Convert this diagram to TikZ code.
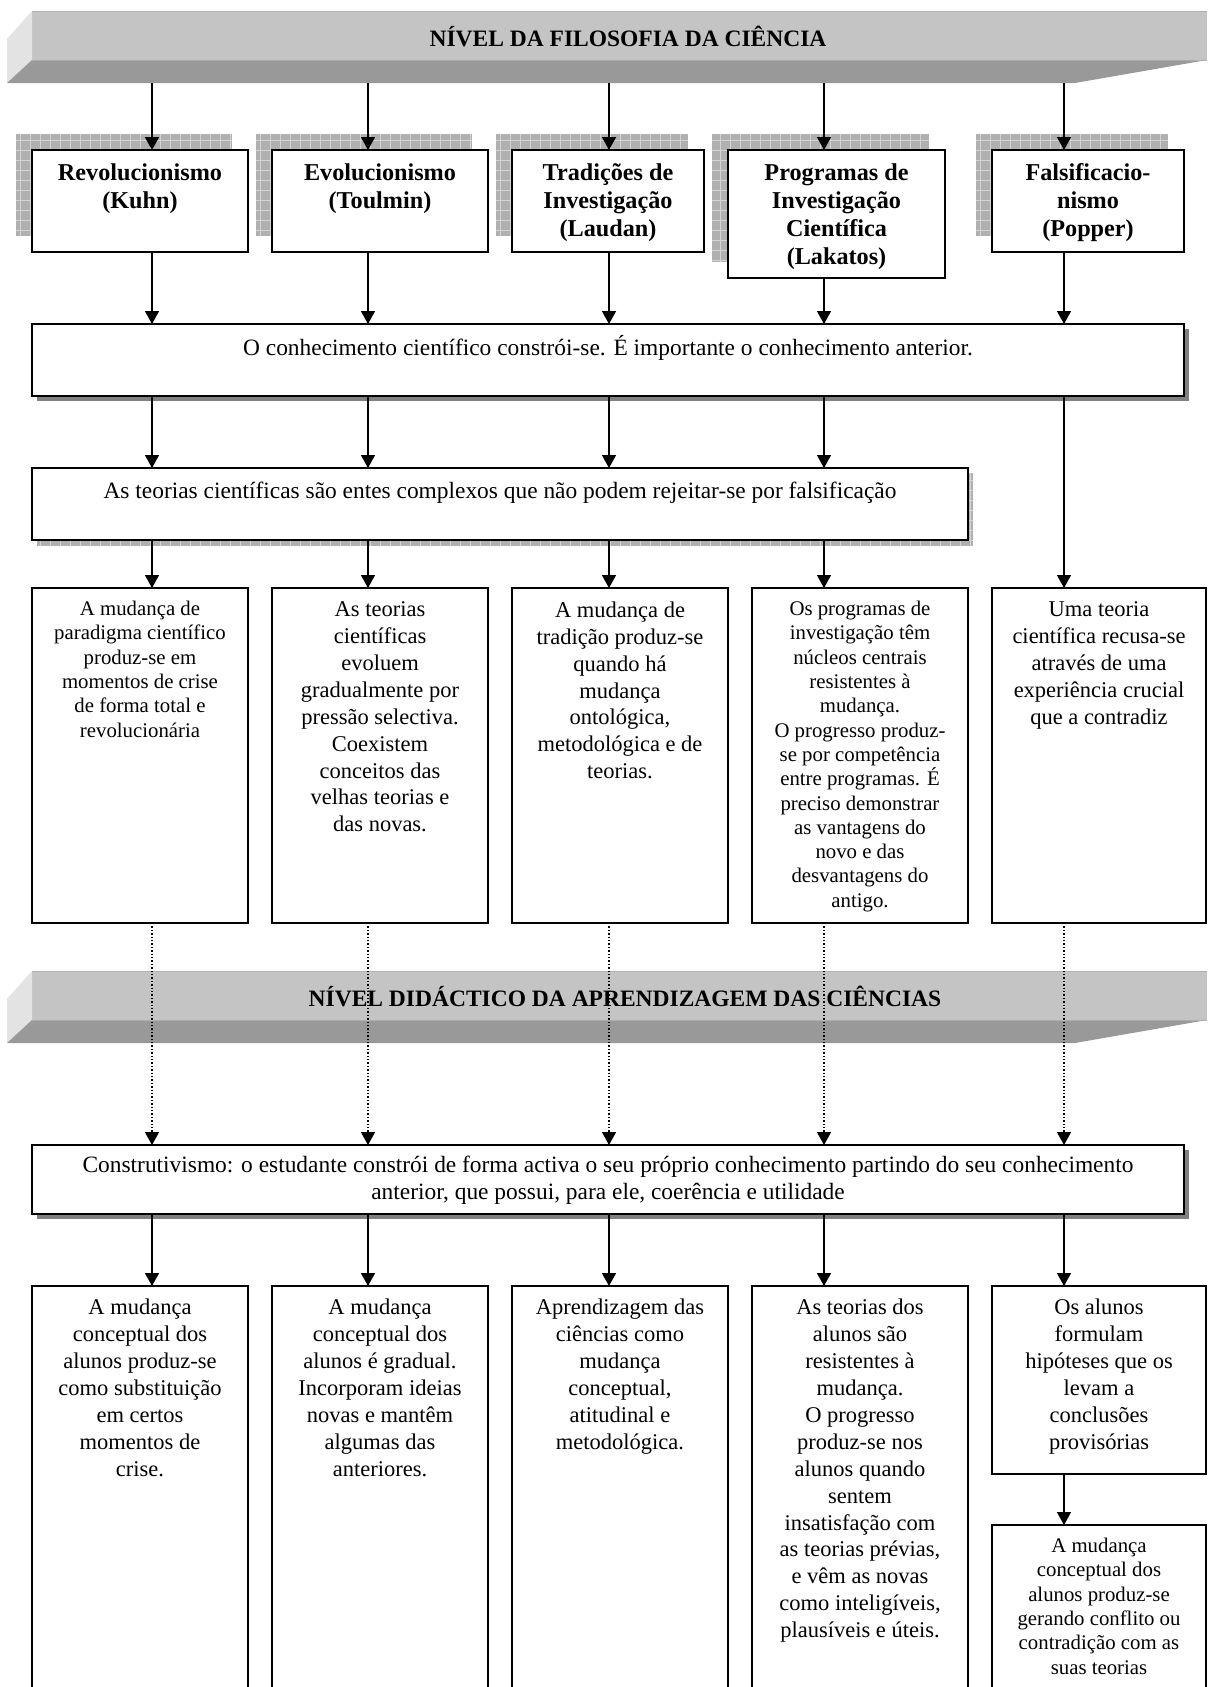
\documentclass[tikz,border=0pt]{standalone}
\usepackage{fontspec}
\setmainfont{Liberation Serif}
\usetikzlibrary{arrows.meta}
\tikzset{
  bx/.style={draw=black, line width=1.5pt, fill=white, inner sep=0pt, outer sep=0pt, anchor=north west},
  arr/.style={line width=1.5pt, -{Triangle[width=14pt,length=13pt]}},
  dotarr/.style={line width=1.4pt, dotted, -{Triangle[width=14pt,length=13pt]}},
  tbase/.style={align=center, inner sep=0pt, anchor=north, execute at begin node=\strut},
  txt/.style={tbase, font=\fontsize{22.5}{26.9}\selectfont},
  bigtxt/.style={tbase, font=\fontsize{23.4}{27}\selectfont},
  stxt/.style={tbase, font=\fontsize{20.8}{24.3}\selectfont},
  btxt/.style={tbase, font=\fontsize{24.2}{28}\selectfont\bfseries},
  bantxt/.style={inner sep=0pt, font=\fontsize{23.5}{28}\selectfont\bfseries},
  frontface/.style={fill=black!23},
  sideface/.style={fill=black!11},
  underface/.style={fill=black!40},
  solidshadow/.style={fill=black!50},
}
\newcommand\gridshadow[4]{%
  \begin{scope}
    \clip (#1,#2) rectangle (#3,#4);
    \fill[black!31] (#1,#2) rectangle (#3,#4);
    \foreach \gx in {0,10,...,1210} \draw[black!17, line width=0.8pt] (\gx,#2) -- (\gx,#4);
    \foreach \gy in {0,10,...,1690} \draw[black!17, line width=0.8pt] (#1,\gy) -- (#3,\gy);
  \end{scope}}
\newcommand\banner[1]{%
  \fill[frontface] (32,#1) rectangle (1207,#1+49);
  \draw[black!30, line width=1pt] (32,#1+0.5) -- (1207,#1+0.5);
  \fill[sideface] (32,#1) -- (7,#1+28) -- (7,#1+72) -- (32,#1+49) -- cycle;
  \fill[underface] (7,#1+72) -- (32,#1+49) -- (1207,#1+49) -- (1075,#1+72) -- cycle;
  \draw[black!32, line width=1pt] (32,#1+49) -- (1207,#1+49);}
\begin{document}
\begin{tikzpicture}[x=1pt,y=-1pt]
\useasboundingbox (0,0) rectangle (1208,1687);
\clip (0,0) rectangle (1208,1687);
\fill[white] (0,0) rectangle (1208,1687);

% column coordinates
\coordinate (c1) at (152,0);
\coordinate (c2) at (368,0);
\coordinate (c3) at (609,0);
\coordinate (c4) at (824,0);
\coordinate (c5) at (1064,0);

% ---------- top banner ----------
\banner{11}
\node[bantxt] (ban1) at (628,36) {NÍVEL DA FILOSOFIA DA CIÊNCIA};
\coordinate (ban1b) at (600,83);

% ---------- row 1 (shadowed titles) ----------
\gridshadow{16}{134}{232}{236}
\gridshadow{256}{134}{472}{236}
\gridshadow{496}{134}{688}{236}
\gridshadow{712}{134}{929}{262}
\gridshadow{976}{134}{1168}{236}

\node[bx, minimum width=216pt, minimum height=102pt] (r1a) at (32,150) {};
\node[bx, minimum width=216pt, minimum height=102pt] (r1b) at (272,150) {};
\node[bx, minimum width=192pt, minimum height=102pt] (r1c) at (512,150) {};
\node[bx, minimum width=217pt, minimum height=128pt] (r1d) at (728,150) {};
\node[bx, minimum width=192pt, minimum height=102pt] (r1e) at (992,150) {};

\node[btxt] (t1a) at ([yshift=-13.5pt]r1a.north) {Revolucionismo\\(Kuhn)};
\node[btxt] (t1b) at ([yshift=-13.5pt]r1b.north) {Evolucionismo\\(Toulmin)};
\node[btxt] (t1c) at ([yshift=-13.5pt]r1c.north) {Tradições de\\Investigação\\(Laudan)};
\node[btxt] (t1d) at ([yshift=-13.5pt]r1d.north) {Programas de\\Investigação\\Científica\\(Lakatos)};
\node[btxt] (t1e) at ([yshift=-13.5pt]r1e.north) {Falsificacio-\\nismo\\(Popper)};

\draw[arr] (c1 |- ban1b) -- (c1 |- r1a.north);
\draw[arr] (c2 |- ban1b) -- (c2 |- r1b.north);
\draw[arr] (c3 |- ban1b) -- (c3 |- r1c.north);
\draw[arr] (c4 |- ban1b) -- (c4 |- r1d.north);
\draw[arr] (c5 |- ban1b) -- (c5 |- r1e.north);

% ---------- big box 1 ----------
\fill[solidshadow] (37,329) rectangle (1189,401);
\node[bx, minimum width=1152pt, minimum height=72pt] (big1) at (32,324) {};
\node[bigtxt] (tbig1) at ([yshift=-11pt]big1.north) {O conhecimento científico constrói-se. É importante o conhecimento anterior.};

\draw[arr] (c1 |- r1a.south) -- (c1 |- big1.north);
\draw[arr] (c2 |- r1b.south) -- (c2 |- big1.north);
\draw[arr] (c3 |- r1c.south) -- (c3 |- big1.north);
\draw[arr] (c4 |- r1d.south) -- (c4 |- big1.north);
\draw[arr] (c5 |- r1e.south) -- (c5 |- big1.north);

% ---------- mid box ----------
\gridshadow{37}{473}{973}{546}
\node[bx, minimum width=936pt, minimum height=72pt] (mid) at (32,468) {};
\node[bigtxt] (tmid) at ([yshift=-11.5pt]mid.north) {As teorias científicas são entes complexos que não podem rejeitar-se por falsificação};

\draw[arr] (c1 |- big1.south) -- (c1 |- mid.north);
\draw[arr] (c2 |- big1.south) -- (c2 |- mid.north);
\draw[arr] (c3 |- big1.south) -- (c3 |- mid.north);
\draw[arr] (c4 |- big1.south) -- (c4 |- mid.north);

% ---------- row 2 ----------
\node[bx, minimum width=216pt, minimum height=335pt] (r2a) at (32,588) {};
\node[bx, minimum width=216pt, minimum height=335pt] (r2b) at (272,588) {};
\node[bx, minimum width=216pt, minimum height=335pt] (r2c) at (512,588) {};
\node[bx, minimum width=216pt, minimum height=335pt] (r2d) at (752,588) {};
\node[bx, minimum width=214pt, minimum height=335pt] (r2e) at (992,588) {};

\node[stxt] (t2a) at ([yshift=-13pt]r2a.north) {A mudança de\\paradigma científico\\produz-se em\\momentos de crise\\de forma total e\\revolucionária};
\node[txt] (t2b) at ([yshift=-13.5pt]r2b.north) {As teorias\\científicas\\evoluem\\gradualmente por\\pressão selectiva.\\Coexistem\\conceitos das\\velhas teorias e\\das novas.};
\node[txt] (t2c) at ([yshift=-13.5pt]r2c.north) {A mudança de\\tradição produz-se\\quando há\\mudança\\ontológica,\\metodológica e de\\teorias.};
\node[stxt] (t2d) at ([yshift=-13pt]r2d.north) {Os programas de\\investigação têm\\núcleos centrais\\resistentes à\\mudança.\\O progresso produz-\\se por competência\\entre programas. É\\preciso demonstrar\\as vantagens do\\novo e das\\desvantagens do\\antigo.};
\node[txt] (t2e) at ([yshift=-13.5pt]r2e.north) {Uma teoria\\científica recusa-se\\através de uma\\experiência crucial\\que a contradiz};

\draw[arr] (c1 |- mid.south) -- (c1 |- r2a.north);
\draw[arr] (c2 |- mid.south) -- (c2 |- r2b.north);
\draw[arr] (c3 |- mid.south) -- (c3 |- r2c.north);
\draw[arr] (c4 |- mid.south) -- (c4 |- r2d.north);
\draw[arr] (c5 |- big1.south) -- (c5 |- r2e.north);

% ---------- second banner ----------
\banner{971}
\node[bantxt] (ban2) at (625,996) {NÍVEL DIDÁCTICO DA APRENDIZAGEM DAS CIÊNCIAS};

% ---------- big box 2 ----------
\fill[solidshadow] (37,1150) rectangle (1189,1219);
\node[bx, minimum width=1152pt, minimum height=69pt] (big2) at (32,1145) {};
\node[bigtxt] (tbig2) at ([yshift=-11pt]big2.north) {Construtivismo: o estudante constrói de forma activa o seu próprio conhecimento partindo do seu conhecimento\\anterior, que possui, para ele, coerência e utilidade};

\draw[dotarr] (c1 |- r2a.south) -- (c1 |- big2.north);
\draw[dotarr] (c2 |- r2b.south) -- (c2 |- big2.north);
\draw[dotarr] (c3 |- r2c.south) -- (c3 |- big2.north);
\draw[dotarr] (c4 |- r2d.south) -- (c4 |- big2.north);
\draw[dotarr] (c5 |- r2e.south) -- (c5 |- big2.north);

% ---------- row 3 ----------
\node[bx, minimum width=216pt, minimum height=420pt] (r3a) at (32,1286) {};
\node[bx, minimum width=216pt, minimum height=420pt] (r3b) at (272,1286) {};
\node[bx, minimum width=216pt, minimum height=420pt] (r3c) at (512,1286) {};
\node[bx, minimum width=216pt, minimum height=420pt] (r3d) at (752,1286) {};
\node[bx, minimum width=214pt, minimum height=188pt] (r3e) at (992,1286) {};
\node[bx, minimum width=214pt, minimum height=180pt] (r4e) at (992,1525) {};

\node[txt] (t3a) at ([yshift=-13pt]r3a.north) {A mudança\\conceptual dos\\alunos produz-se\\como substituição\\em certos\\momentos de\\crise.};
\node[txt] (t3b) at ([yshift=-13pt]r3b.north) {A mudança\\conceptual dos\\alunos é gradual.\\Incorporam ideias\\novas e mantêm\\algumas das\\anteriores.};
\node[txt] (t3c) at ([yshift=-13pt]r3c.north) {Aprendizagem das\\ciências como\\mudança\\conceptual,\\atitudinal e\\metodológica.};
\node[txt] (t3d) at ([yshift=-13pt]r3d.north) {As teorias dos\\alunos são\\resistentes à\\mudança.\\O progresso\\produz-se nos\\alunos quando\\sentem\\insatisfação com\\as teorias prévias,\\e vêm as novas\\como inteligíveis,\\plausíveis e úteis.};
\node[txt] (t3e) at ([yshift=-13pt]r3e.north) {Os alunos\\formulam\\hipóteses que os\\levam a\\conclusões\\provisórias};
\node[stxt] (t4e) at ([yshift=-13pt]r4e.north) {A mudança\\conceptual dos\\alunos produz-se\\gerando conflito ou\\contradição com as\\suas teorias};

\draw[arr] (c1 |- big2.south) -- (c1 |- r3a.north);
\draw[arr] (c2 |- big2.south) -- (c2 |- r3b.north);
\draw[arr] (c3 |- big2.south) -- (c3 |- r3c.north);
\draw[arr] (c4 |- big2.south) -- (c4 |- r3d.north);
\draw[arr] (c5 |- big2.south) -- (c5 |- r3e.north);
\draw[arr] (c5 |- r3e.south) -- (c5 |- r4e.north);
\end{tikzpicture}
\end{document}
